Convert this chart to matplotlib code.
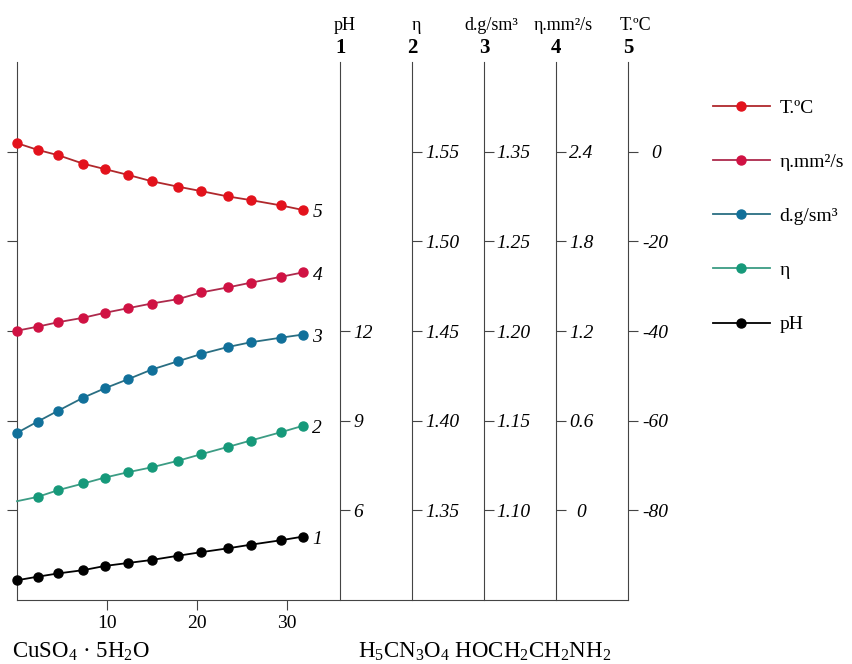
import numpy as np
import matplotlib
matplotlib.use("Agg")
import matplotlib.pyplot as plt

plt.rcParams['font.family'] = ['Liberation Serif', 'DejaVu Serif']
plt.rcParams['mathtext.fontset'] = 'custom'
plt.rcParams['mathtext.rm'] = 'Liberation Serif'
plt.rcParams['mathtext.it'] = 'Liberation Serif:italic'

# concentration (x axis)
conc = [0, 2.3, 4.6, 7.4, 9.8, 12.4, 15.0, 17.9, 20.5, 23.5, 26.0, 29.4, 31.8]

# series values in their own units
ph = [3.66, 3.78, 3.89, 4.00, 4.14, 4.24, 4.34, 4.48, 4.60, 4.73, 4.85, 5.00, 5.12]
eta = [1.3551, 1.3575, 1.3613, 1.3650, 1.3683, 1.3713, 1.3740, 1.3776, 1.3813,
       1.3854, 1.3889, 1.3936, 1.3971]
dens = [1.1432, 1.1495, 1.1556, 1.1629, 1.1681, 1.1732, 1.1785, 1.1831, 1.1872,
        1.1911, 1.1937, 1.1963, 1.1980]
visc = [1.202, 1.229, 1.259, 1.289, 1.322, 1.353, 1.384, 1.413, 1.458, 1.492,
        1.523, 1.563, 1.592]
temp = [1.9, 0.4, -0.8, -2.7, -3.9, -5.2, -6.6, -7.8, -8.8, -10.0, -10.8, -12.0, -13.0]

# right-hand scales
ph_ticks = [6, 9, 12]
ph_labels = ['6', '9', '12']
eta_ticks = [1.35, 1.40, 1.45, 1.50, 1.55]
eta_labels = ['1.35', '1.40', '1.45', '1.50', '1.55']
dens_ticks = [1.10, 1.15, 1.20, 1.25, 1.30]
dens_labels = ['1.10', '1.15', '1.20', '1.25', '1.35']
visc_ticks = [0, 0.6, 1.2, 1.8, 2.4]
visc_labels = ['0', '0.6', '1.2', '1.8', '2.4']
temp_ticks = [-80, -60, -40, -20, 0]
temp_labels = ['-80', '-60', '-40', '-20', '0']

x_ticks = [10, 20, 30]
scale_names = ['pH', 'η', 'd.g/sm³', 'η.mm²/s', 'T.ºC']
scale_nums = ['1', '2', '3', '4', '5']

fig = plt.figure(figsize=(8.52, 6.64), dpi=100)
ax = fig.add_axes([17/852, 64/664, 611/852, 538/664])
ax.set_xlim(0, 68)
ax.set_ylim(0, 6)
ax.spines['top'].set_visible(False)
ax.spines['right'].set_visible(False)
ax.spines['left'].set_color('#444444')
ax.spines['bottom'].set_color('#444444')
ax.set_yticks([1, 2, 3, 4, 5])
ax.set_yticklabels([])
ax.set_xticks(x_ticks)
ax.tick_params(axis='both', direction='out', length=7, color='#444444', labelsize=14)

axis_pos = [36, 44, 52, 60, 68]
limits = [(3, 21), (1.30, 1.60), (1.05, 1.35), (-0.6, 3.0), (-100, 20)]
ticks = [ph_ticks, eta_ticks, dens_ticks, visc_ticks, temp_ticks]
labels = [ph_labels, eta_labels, dens_labels, visc_labels, temp_labels]
pads = [2, 2, 2, 11, 13]

twins = []
for i in range(5):
    t = ax.twinx()
    t.set_ylim(*limits[i])
    for s in ['left', 'top', 'bottom']:
        t.spines[s].set_visible(False)
    t.spines['right'].set_position(('axes', axis_pos[i] / 68))
    t.spines['right'].set_color('#444444')
    t.set_yticks(ticks[i])
    t.set_yticklabels(labels[i], fontstyle='italic', fontsize=14)
    t.tick_params(axis='y', direction='out', length=7, color='#444444', pad=pads[i])
    if i >= 3:
        for lb in t.get_yticklabels():
            lb.set_horizontalalignment('center')
    twins.append(t)
    ax.text(axis_pos[i], 6.05, scale_nums[i], ha='center', va='bottom',
            fontsize=15, fontweight='bold')
    ax.text(axis_pos[i] + (0.8 if i > 1 else 0.5), 6.31, scale_names[i], ha='center',
            va='bottom', fontsize=13)

series = [
    (twins[4], temp, 'T.ºC', '#e3121c', '#b0282c', '5'),
    (twins[3], visc, 'η.mm²/s', '#d01243', '#ad2a4c', '4'),
    (twins[2], dens, 'd.g/sm³', '#11709a', '#2a6e82', '3'),
    (twins[1], eta, 'η', '#16997a', '#3c9c84', '2'),
    (twins[0], ph, 'pH', 'black', 'black', '1'),
]

handles = []
for tax, vals, name, mc, lc, num in series:
    mev = list(range(1, len(conc))) if name == 'η' else None
    l, = tax.plot(conc, vals, color=lc, linewidth=1.3, marker='o', markersize=6.5,
                  markerfacecolor=mc, markeredgecolor=mc, markevery=mev,
                  label=name, clip_on=False)
    handles.append(l)
    tax.annotate(num, (conc[-1], vals[-1]), xytext=(7, -2), textcoords='offset points',
                 ha='left', va='center', fontsize=14, fontstyle='italic')

fig.legend(handles=handles, loc='upper left', bbox_to_anchor=(0.8165, 0.877),
           frameon=False, fontsize=14, labelspacing=1.88, handlelength=2.9,
           handletextpad=0.5)

fig.text(12/852, 12/664, r'CuSO$_4$ · 5H$_2$O', fontsize=16.5, ha='left', va='center')
fig.text(358/852, 12/664, r'H$_5$CN$_3$O$_4$ HOCH$_2$CH$_2$NH$_2$', fontsize=16.5,
         ha='left', va='center')

fig.savefig('out.png', dpi=100)
